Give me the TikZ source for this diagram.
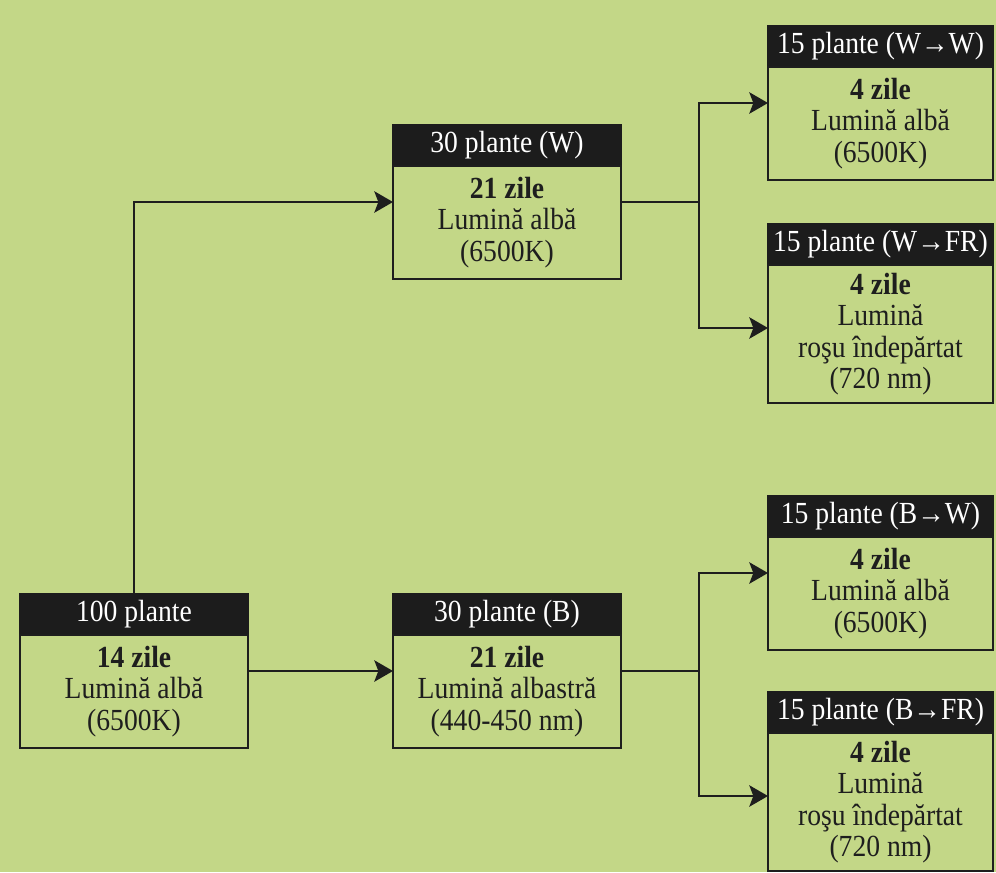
\documentclass[tikz,border=0pt]{standalone}
\usepackage{fontspec}
\setmainfont{Liberation Serif}[FakeStretch=0.9]
\usetikzlibrary{arrows.meta,calc}
\definecolor{bggreen}{RGB}{195,215,135}
\definecolor{hdrblack}{RGB}{28,28,28}
\definecolor{inkblack}{RGB}{30,30,30}
\tikzset{
  every node/.style={outer sep=0pt, inner sep=0pt, font=\fontsize{23}{23.6}\selectfont},
  hdrbox/.style={anchor=north west, fill=hdrblack, draw=hdrblack, line width=1.8pt, text=white, minimum height=41*0.75pt},
  bodybox/.style={anchor=north west, fill=bggreen, draw=inkblack, line width=1.8pt, text=inkblack, align=center},
  lw/.style={minimum width=228*0.75pt},
  rw/.style={minimum width=225*0.75pt},
  bthree/.style={minimum height=113*0.75pt},
  bfour/.style={minimum height=138*0.75pt},
  conn/.style={draw=inkblack, line width=1.8pt},
  arr/.style={conn, -{Stealth[length=14pt,width=16pt,inset=3pt]}},
}
\begin{document}
\begin{tikzpicture}[x=0.75pt,y=-0.75pt]
\useasboundingbox (0,0) rectangle (996,872);
\fill[bggreen] (0,0) rectangle (996,872);

% left box
\node[hdrbox,lw] (hA) at (20,594) {100 plante};
\node[bodybox,lw,bthree] (bA) at (hA.south west) {\textbf{14 zile}\\Lumină albă\\(6500K)};

% middle boxes
\node[hdrbox,lw] (hW) at (393,125) {30 plante (W)};
\node[bodybox,lw,bthree] (bW) at (hW.south west) {\textbf{21 zile}\\Lumină albă\\(6500K)};

\node[hdrbox,lw] (hB) at (393,594) {30 plante (B)};
\node[bodybox,lw,bthree] (bB) at (hB.south west) {\textbf{21 zile}\\Lumină albastră\\(440-450 nm)};

% right boxes
\node[hdrbox,rw] (hWW) at (768,26) {15 plante (W→W)};
\node[bodybox,rw,bthree] (bWW) at (hWW.south west) {\textbf{4 zile}\\Lumină albă\\(6500K)};

\node[hdrbox,rw] (hWFR) at (768,224) {15 plante (W→FR)};
\node[bodybox,rw,bfour] (bWFR) at (hWFR.south west) {\textbf{4 zile}\\Lumină\\roşu îndepărtat\\(720 nm)};

\node[hdrbox,rw] (hBW) at (768,496) {15 plante (B→W)};
\node[bodybox,rw,bthree] (bBW) at (hBW.south west) {\textbf{4 zile}\\Lumină albă\\(6500K)};

\node[hdrbox,rw] (hBFR) at (768,692) {15 plante (B→FR)};
\node[bodybox,rw,bfour] (bBFR) at (hBFR.south west) {\textbf{4 zile}\\Lumină\\roşu îndepărtat\\(720 nm)};

% connection points
\coordinate (outA) at ($(hA.north east)!0.5!(bA.south east)$);
\coordinate (inW) at ($(hW.north west)!0.5!(bW.south west)$);
\coordinate (outW) at ($(hW.north east)!0.5!(bW.south east)$);
\coordinate (inB) at ($(hB.north west)!0.5!(bB.south west)$);
\coordinate (outB) at ($(hB.north east)!0.5!(bB.south east)$);
\coordinate (jW) at ($(outW)+(78,0)$);
\coordinate (jB) at ($(outB)+(78,0)$);
\coordinate (inWW) at ($(hWW.north west)!0.5!(bWW.south west)$);
\coordinate (inWFR) at ($(hWFR.north west)+(0,104)$);
\coordinate (inBW) at ($(hBW.north west)!0.5!(bBW.south west)$);
\coordinate (inBFR) at ($(hBFR.north west)+(0,104)$);

% connectors
\draw[arr] (hA.north) |- (inW);
\draw[arr] (outA) -- (inB);
\draw[conn] (outW) -- (jW);
\draw[arr] (jW) |- (inWW);
\draw[arr] (jW) |- (inWFR);
\draw[conn] (outB) -- (jB);
\draw[arr] (jB) |- (inBW);
\draw[arr] (jB) |- (inBFR);
\end{tikzpicture}
\end{document}
